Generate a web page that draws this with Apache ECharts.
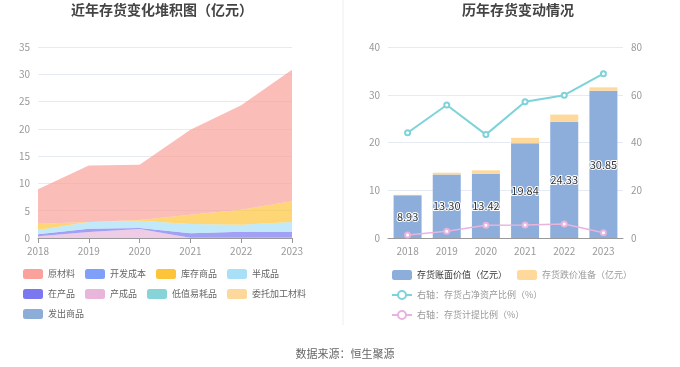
<!DOCTYPE html>
<html><head><meta charset="utf-8">
<script src="https://cdn.jsdelivr.net/npm/echarts@6/dist/echarts.min.js"></script>
<style>html,body{margin:0;padding:0;background:#fff}#c{width:680px;height:367px}</style>
</head><body><div id="c"></div>
<script>
const years = ['2018','2019','2020','2021','2022','2023'];
// stacked area (亿元)
const yuancailiao = [6.30, 10.37, 10.12, 15.56, 19.14, 24.13];
const kaifachengben = [0, 0, 0, 0, 0, 0];
const kucunshangpin = [1.16, 0.00, 0.12, 1.71, 2.75, 3.79];
const banchengpin = [0.80, 1.22, 1.35, 1.71, 1.28, 1.77];
const zaichanpin = [0.37, 0.61, 0.18, 0.81, 1.11, 1.11];
const chanchengpin = [0.30, 1.10, 1.65, 0.05, 0.05, 0.05];
const dizhiyihaopin = [0, 0, 0, 0, 0, 0];
const weituojiagong = [0, 0, 0, 0, 0, 0];
const fachushangpin = [0, 0, 0, 0, 0, 0];
// right chart
const bookValue = [8.93, 13.30, 13.42, 19.84, 24.33, 30.85];
const impairment = [0.11, 0.38, 0.75, 1.14, 1.51, 0.70];
const ratioNetAsset = [44.1, 55.7, 43.3, 57.1, 59.8, 68.8];
const ratioImpair = [1.3, 2.8, 5.3, 5.45, 5.86, 2.23];

const font = '"Noto Sans CJK SC", "Noto Sans", sans-serif';
const areaNames = ['原材料','开发成本','库存商品','半成品','在产品','产成品','低值易耗品','委托加工材料','发出商品'];
const areaColors = {'原材料':'#F9A19A','开发成本':'#7F9FF8','库存商品':'#FDC43A','半成品':'#A8E0F7','在产品':'#7A77F0','产成品':'#E7B6DA','低值易耗品':'#86D4D8','委托加工材料':'#FED79A','发出商品':'#8DADD9'};
const areaData = {'原材料':yuancailiao,'开发成本':kaifachengben,'库存商品':kucunshangpin,'半成品':banchengpin,'在产品':zaichanpin,'产成品':chanchengpin,'低值易耗品':dizhiyihaopin,'委托加工材料':weituojiagong,'发出商品':fachushangpin};

const areaSeries = areaNames.slice().reverse().map(n => ({
  name: n, type: 'line', stack: 'inv', xAxisIndex: 0, yAxisIndex: 0,
  data: areaData[n], symbol: 'none', showSymbol: false,
  lineStyle: {width: 0}, itemStyle: {color: areaColors[n]},
  areaStyle: {color: areaColors[n], opacity: 0.7}
}));

const axisLabel = {color: '#999', fontSize: 10, fontFamily: font};
const chart = echarts.init(document.getElementById('c'));
chart.setOption({
  animation: false,
  textStyle: {fontFamily: font},
  title: [
    {text: '近年存货变化堆积图（亿元）', left: 162, top: 3, padding: 0, textAlign: 'center', textStyle: {fontSize: 14, fontWeight: 'bold', color: '#444', fontFamily: font}},
    {text: '历年存货变动情况', left: 518, top: 3, padding: 0, textAlign: 'center', textStyle: {fontSize: 14, fontWeight: 'bold', color: '#444', fontFamily: font}},
    {text: '数据来源：恒生聚源', left: 340, top: 343, textAlign: 'center', textStyle: {fontSize: 11, fontWeight: 'normal', color: '#666', fontFamily: font}}
  ],
  graphic: [{type: 'line', shape: {x1: 343, y1: 0, x2: 343, y2: 325}, style: {stroke: '#eee', lineWidth: 1}}],
  grid: [
    {left: 38, right: 388, top: 47, bottom: 129},
    {left: 388, right: 57, top: 47, bottom: 129}
  ],
  legend: [
    {data: areaNames, left: 18, top: 264, width: 295, itemGap: 10, itemWidth: 20, itemHeight: 10, icon: 'roundRect',
     textStyle: {fontSize: 9, lineHeight: 10, color: '#666', fontFamily: font}},
    {data: [
      {name: '存货账面价值（亿元）', icon: 'roundRect', textStyle: {color: '#333'}},
      {name: '存货跌价准备（亿元）', icon: 'roundRect'},
      {name: '右轴：存货占净资产比例（%）'},
      {name: '右轴：存货计提比例（%）'}
     ], left: 386, top: 265, width: 265, itemGap: 10, itemWidth: 20, itemHeight: 10,
     textStyle: {fontSize: 9, lineHeight: 10, color: '#999', fontFamily: font}}
  ],
  xAxis: [
    {type: 'category', gridIndex: 0, data: years, boundaryGap: false, axisLabel: axisLabel,
     axisLine: {lineStyle: {color: '#999'}}, axisTick: {lineStyle: {color: '#999'}}},
    {type: 'category', gridIndex: 1, data: years, axisLabel: axisLabel,
     axisLine: {lineStyle: {color: '#999'}}, axisTick: {show: false}}
  ],
  yAxis: [
    {type: 'value', gridIndex: 0, min: 0, max: 35, interval: 5, axisLabel: axisLabel,
     splitLine: {lineStyle: {color: '#E6EAF2'}}},
    {type: 'value', gridIndex: 1, min: 0, max: 40, interval: 10, axisLabel: axisLabel,
     splitLine: {lineStyle: {color: '#E6EAF2'}}},
    {type: 'value', gridIndex: 1, position: 'right', min: 0, max: 80, interval: 20, axisLabel: axisLabel,
     splitLine: {show: false}}
  ],
  series: areaSeries.concat([
    {name: '存货账面价值（亿元）', type: 'bar', stack: 'bv', xAxisIndex: 1, yAxisIndex: 1, data: bookValue,
     barWidth: 28, itemStyle: {color: '#8DADDB'},
     label: {show: true, position: 'inside', formatter: p => p.value.toFixed(2), fontSize: 11, color: '#333',
       textBorderColor: '#fff', textBorderWidth: 2, fontFamily: font}},
    {name: '存货跌价准备（亿元）', type: 'bar', stack: 'bv', xAxisIndex: 1, yAxisIndex: 1, data: impairment,
     barWidth: 28, itemStyle: {color: '#FFD99B'}},
    {name: '右轴：存货占净资产比例（%）', type: 'line', xAxisIndex: 1, yAxisIndex: 2, data: ratioNetAsset,
     symbol: 'emptyCircle', symbolSize: 5, itemStyle: {color: '#7ED3D9'}, lineStyle: {width: 2, color: '#7ED3D9'}},
    {name: '右轴：存货计提比例（%）', type: 'line', xAxisIndex: 1, yAxisIndex: 2, data: ratioImpair,
     symbol: 'emptyCircle', symbolSize: 5, itemStyle: {color: '#E8B3DD'}, lineStyle: {width: 1.5, color: '#E8B3DD'}}
  ])
});
</script></body></html>
